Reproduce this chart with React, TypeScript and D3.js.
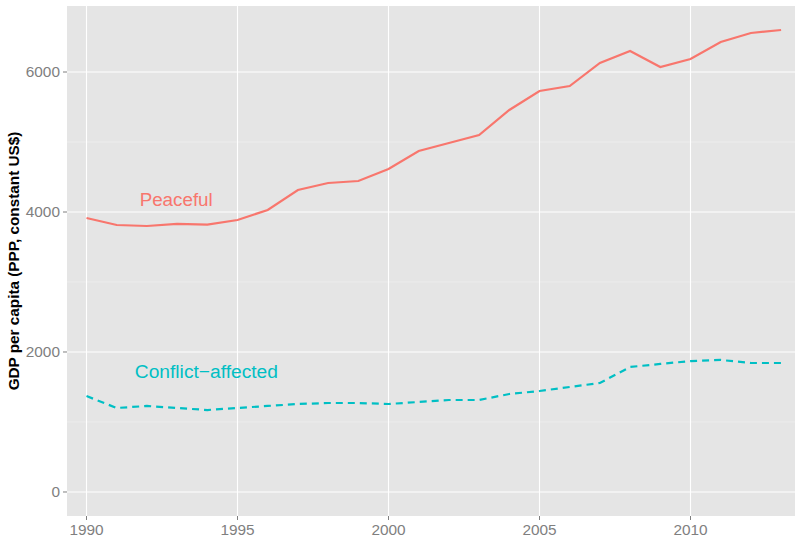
import * as d3 from "d3";
import React from "react";

const years = d3.range(1990, 2014);
const peaceful = [3914, 3814, 3800, 3829, 3821, 3886, 4029, 4314, 4414, 4443, 4614, 4871, 4986, 5100, 5457, 5729, 5800, 6129, 6300, 6071, 6186, 6429, 6557, 6600];
const conflict = [1371, 1200, 1229, 1200, 1171, 1200, 1229, 1257, 1271, 1271, 1257, 1286, 1314, 1314, 1400, 1443, 1500, 1557, 1786, 1829, 1871, 1886, 1843, 1843];
const xTicks = [1990, 1995, 2000, 2005, 2010];
const yTicks = [0, 2000, 4000, 6000];
const yMinor = [1000, 3000, 5000];

const width = 795;
const height = 537;
const panelLeft = 67;
const panelRight = 795;
const panelTop = 6;
const panelBottom = 516;

const App = () => {
    const x = d3.scaleLinear().domain([1989.354, 2013.46]).range([panelLeft, panelRight]);
    const y = d3.scaleLinear().domain([-343, 6943]).range([panelBottom, panelTop]);

    const line = d3.line<number>()
        .x((d, i) => x(years[i]))
        .y(d => y(d));

    const font = "'Liberation Sans', Arial, sans-serif";

    return (
        <svg width={width} height={height} style={{ position: "absolute", left: 0, top: 0 }} fontFamily={font}>
            <rect x={0} y={0} width={width} height={height} fill="#fff" />
            {/* panel */}
            <rect x={panelLeft} y={panelTop} width={panelRight - panelLeft} height={panelBottom - panelTop} fill="#E5E5E5" />
            {yMinor.map(t => (
                <line key={"m" + t} x1={panelLeft} x2={panelRight} y1={y(t)} y2={y(t)} stroke="#F2F2F2" strokeWidth={0.6} />
            ))}
            {yTicks.map(t => (
                <line key={"gy" + t} x1={panelLeft} x2={panelRight} y1={y(t)} y2={y(t)} stroke="#fff" strokeWidth={1.1} />
            ))}
            {xTicks.map(t => (
                <line key={"gx" + t} x1={x(t)} x2={x(t)} y1={panelTop} y2={panelBottom} stroke="#fff" strokeWidth={1.1} />
            ))}

            {/* series */}
            <path d={line(peaceful) ?? ""} fill="none" stroke="#F8766D" strokeWidth={2.2} />
            <path d={line(conflict) ?? ""} fill="none" stroke="#00BFC4" strokeWidth={2.2} strokeDasharray="7,5" />

            <text x={x(1992.97)} y={y(4180)} textAnchor="middle" dy="0.35em" fontSize={18.8} fill="#F8766D">Peaceful</text>
            <text x={x(1993.97)} y={y(1720)} textAnchor="middle" dy="0.35em" fontSize={19.2} fill="#00BFC4">Conflict−affected</text>

            {/* y axis */}
            {yTicks.map(t => (
                <g key={"ty" + t}>
                    <line x1={panelLeft - 4} x2={panelLeft} y1={y(t)} y2={y(t)} stroke="#7f7f7f" strokeWidth={1} />
                    <text x={panelLeft - 7} y={y(t)} dy="0.35em" textAnchor="end" fontSize={15.4} fill="#7f7f7f">{t}</text>
                </g>
            ))}
            {/* x axis */}
            {xTicks.map(t => (
                <g key={"tx" + t}>
                    <line x1={x(t)} x2={x(t)} y1={panelBottom} y2={panelBottom + 4} stroke="#7f7f7f" strokeWidth={1} />
                    <text x={x(t)} y={panelBottom + 14} dy="0.35em" textAnchor="middle" fontSize={15.4} fill="#7f7f7f">{t}</text>
                </g>
            ))}

            <text transform={`translate(19,${(panelTop + panelBottom) / 2}) rotate(-90)`} textAnchor="middle" fontSize={15.3} fontWeight="bold" fill="#000">
                GDP per capita (PPP, constant US$)
            </text>
        </svg>
    );
};

export default App;
